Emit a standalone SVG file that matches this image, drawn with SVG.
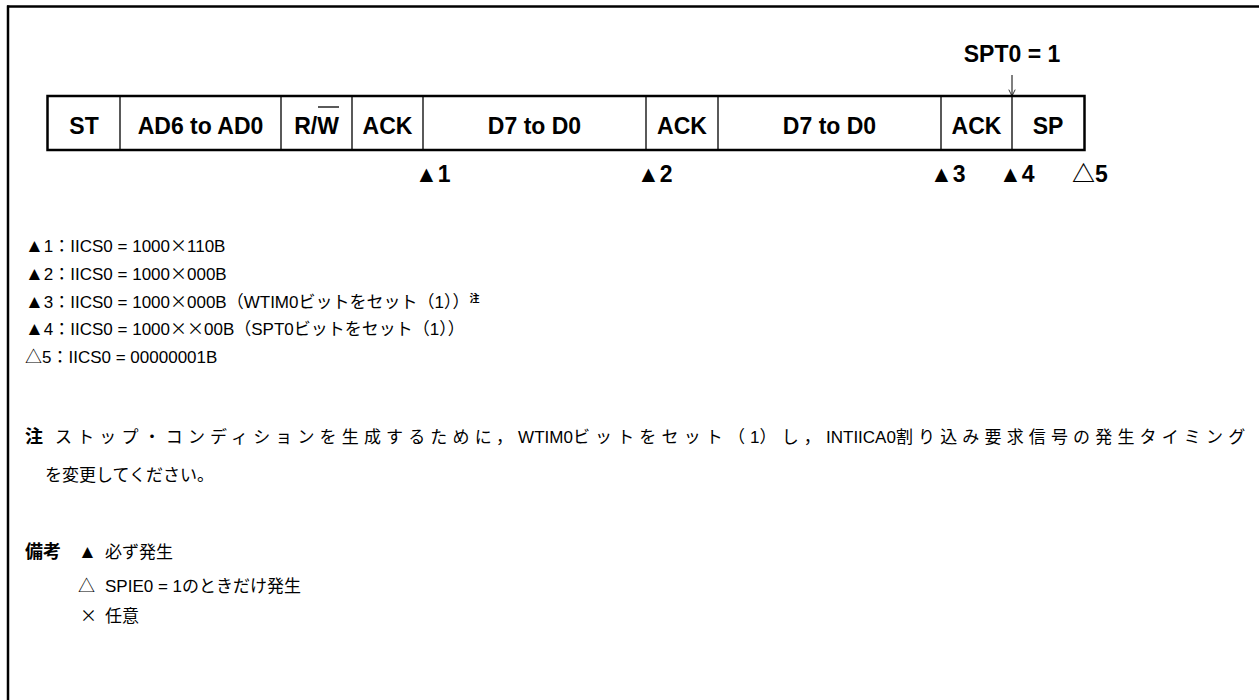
<svg xmlns="http://www.w3.org/2000/svg" width="1259" height="700" viewBox="0 0 1259 700">
<style>
.frame{stroke:#000;stroke-width:2.5;fill:none}
.cell{stroke:#000;stroke-width:1.3;fill:none}
.box{stroke:#000;stroke-width:2.5;fill:none}
.bt{font-family:"Liberation Sans","Noto Sans CJK JP",sans-serif;font-weight:bold;font-size:23px;fill:#000;text-anchor:middle}
.mk{font-family:"Liberation Sans","Noto Sans CJK JP",sans-serif;font-weight:bold;font-size:23px;fill:#000}
.t{font-family:"Liberation Sans","Noto Sans CJK JP",sans-serif;font-size:17px;fill:#000}
.j{font-family:"Noto Sans CJK JP",sans-serif}
.b{font-weight:bold}
.lbl{font-size:18px}
.sp{letter-spacing:5.15px}
.tri{font-size:19px}
</style>
<defs>
<marker id="arr" viewBox="0 0 10 10" refX="10" refY="5" markerWidth="8" markerHeight="8" orient="auto" markerUnits="userSpaceOnUse">
<path d="M2,1 L10,5 L2,9" fill="none" stroke="#000" stroke-width="1"/>
</marker>
</defs>
<g id="frame">
<line class="frame" x1="7" y1="6.5" x2="1259" y2="6.5"/>
<line class="frame" x1="8" y1="5.5" x2="8" y2="700"/>
</g>
<g id="frame-row">
<rect class="box" x="47.5" y="96" width="1037" height="54"/>
<g id="cell-ST"><text class="bt" x="84" y="134">ST</text></g>
<line class="cell" x1="120" y1="96" x2="120" y2="150"/>
<g id="cell-AD"><text class="bt" x="200.5" y="134">AD6 to AD0</text></g>
<line class="cell" x1="281" y1="96" x2="281" y2="150"/>
<g id="cell-RW"><text class="bt" x="316.5" y="134">R/W</text><line x1="318" y1="107" x2="339" y2="107" stroke="#000" stroke-width="1.3"/></g>
<line class="cell" x1="352" y1="96" x2="352" y2="150"/>
<g id="cell-ACK1"><text class="bt" x="387.5" y="134">ACK</text></g>
<line class="cell" x1="423" y1="96" x2="423" y2="150"/>
<g id="cell-D1"><text class="bt" x="534.5" y="134">D7 to D0</text></g>
<line class="cell" x1="646" y1="96" x2="646" y2="150"/>
<g id="cell-ACK2"><text class="bt" x="682" y="134">ACK</text></g>
<line class="cell" x1="718" y1="96" x2="718" y2="150"/>
<g id="cell-D2"><text class="bt" x="829.5" y="134">D7 to D0</text></g>
<line class="cell" x1="941" y1="96" x2="941" y2="150"/>
<g id="cell-ACK3"><text class="bt" x="976.5" y="134">ACK</text></g>
<line class="cell" x1="1012" y1="96" x2="1012" y2="150"/>
<g id="cell-SP"><text class="bt" x="1048" y="134">SP</text></g>
</g>
<g id="spt0-label"><text class="bt" x="1012" y="62">SPT0 = 1</text></g>
<g id="connectors">
<line x1="1012" y1="75" x2="1012" y2="96" stroke="#000" stroke-width="1" marker-end="url(#arr)"/>
</g>
<g id="markers">
<text class="mk" x="415" y="182">▲1</text>
<text class="mk" x="637" y="182">▲2</text>
<text class="mk" x="930" y="182">▲3</text>
<text class="mk" x="999" y="182">▲4</text>
<text class="mk" x="1072" y="182">△5</text>
</g>
<g id="legend">
<text class="t" x="25" y="252"><tspan class="tri">▲</tspan>1<tspan class="j">：</tspan>IICS0 = 1000<tspan class="j">×</tspan>110B</text>
<text class="t" x="25" y="280"><tspan class="tri">▲</tspan>2<tspan class="j">：</tspan>IICS0 = 1000<tspan class="j">×</tspan>000B</text>
<text class="t" x="25" y="308"><tspan class="tri">▲</tspan>3<tspan class="j">：</tspan>IICS0 = 1000<tspan class="j">×</tspan>000B<tspan class="j">（</tspan>WTIM0<tspan class="j">ビットをセット（</tspan>1<tspan class="j">））</tspan><tspan class="j b" font-size="10" dy="-6">注</tspan></text>
<text class="t" x="25" y="335"><tspan class="tri">▲</tspan>4<tspan class="j">：</tspan>IICS0 = 1000<tspan class="j">××</tspan>00B<tspan class="j">（</tspan>SPT0<tspan class="j">ビットをセット（</tspan>1<tspan class="j">））</tspan></text>
<text class="t" x="25" y="363">△5<tspan class="j">：</tspan>IICS0 = 00000001B</text>
</g>
<g id="note">
<text class="t j b lbl" x="25" y="443">注</text>
<text class="t" x="55" y="443"><tspan class="j sp">ストップ・コンディションを生成するために，</tspan>WTIM0<tspan class="j sp">ビットをセット（</tspan>1<tspan class="j sp">）し，</tspan>INTIICA0<tspan class="j sp">割り込み要求信号の発生タイミン</tspan><tspan class="j">グ</tspan></text>
<text class="t j" x="45" y="481">を変更してください。</text>
</g>
<g id="remarks">
<text class="t j b lbl" x="25" y="558">備考</text>
<text class="t tri" x="78" y="558">▲</text>
<text class="t j" x="105" y="558">必ず発生</text>
<text class="t j" x="78" y="592">△</text>
<text class="t" x="105" y="592">SPIE0 = 1<tspan class="j">のときだけ発生</tspan></text>
<text class="t j" x="80" y="622">×</text>
<text class="t j" x="105" y="622">任意</text>
</g>
</svg>
